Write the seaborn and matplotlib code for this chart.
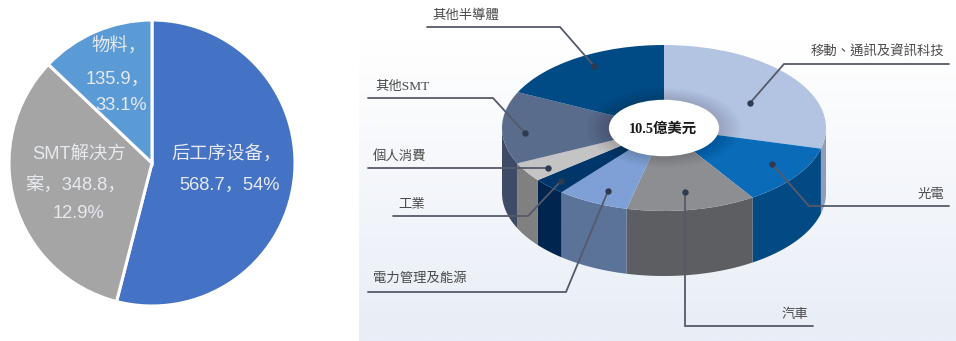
import numpy as np
import matplotlib
matplotlib.use("Agg")
import matplotlib.pyplot as plt
from matplotlib.colors import LinearSegmentedColormap
from matplotlib.patches import Circle
import seaborn as sns

# Left pie: spend by equipment type
pie_values = [568.7, 348.8, 135.9]
pie_colors = ["#4472c4", "#a5a5a5", "#5b9bd5"]
pie_labels = [["后工序设备，", "568.7，54%"], ["SMT解决方", "案，348.8，", "12.9%"], ["物料，", "135.9，", "33.1%"]]

# Right pie: 10.5 billion USD split by end market (shares in percent)
market_names = ["移動、通訊及資訊科技", "光電", "汽車", "電力管理及能源",
                "工業", "個人消費", "其他SMT", "其他半導體"]
market_shares = [29.0, 11.8, 12.9, 7.2, 3.3, 3.8, 14.1, 17.9]
top_colors = ["#b3c4e2", "#0a6bb8", "#8d8e91", "#7fa0d6",
              "#00376b", "#c4c4c4", "#5a6c8c", "#004a85"]
wall_colors = ["#8f9db8", "#024a84", "#5d5e62", "#5b7299",
               "#00264f", "#808080", "#3d4b66", "#003a6b"]
center_label = "10.5億美元"

W, H = 956, 341
SANS = ["Liberation Sans", "Noto Sans CJK SC"]
SERIF = ["Liberation Serif", "Noto Sans CJK TC"]
LINE = "#555a6a"

sns.set_theme(style="white")
fig = plt.figure(figsize=(W / 100, H / 100), dpi=100, facecolor="white")


def px_axes(left, top, right, bottom, zorder=1):
    """Axes placed by pixel bounds, measured from the top-left corner."""
    ax = fig.add_axes([left / W, 1 - bottom / H, (right - left) / W, (bottom - top) / H])
    ax.set_zorder(zorder)
    ax.patch.set_alpha(0)
    return ax


# Soft vertical wash behind the right-hand chart
bg = px_axes(359, 0, W, H, zorder=0)
wash = LinearSegmentedColormap.from_list("wash", [(0, "#ffffff"), (0.12, "#ffffff"), (1, "#e8edf6")])
bg.imshow(np.linspace(0, 1, 256).reshape(-1, 1), cmap=wash, aspect="auto")
bg.axis("off")

# Flat pie on the left
ax_pie = px_axes(9, 20, 295, 306)
ax_pie.pie(pie_values, colors=sns.color_palette(pie_colors), startangle=90, counterclock=False,
           radius=1, wedgeprops=dict(edgecolor="white", linewidth=2.2))
ax_pie.set(xlim=(-1, 1), ylim=(-1, 1))
ax_pie.set_aspect("auto")

# Extruded ring: a unit circle squashed into an ellipse by the axes limits
DEPTH = 0.783
HOLE = 0.34
ax_ring = px_axes(502, 45, 826, 276)


def arc(start_deg, end_deg, drop=0.0):
    theta = np.radians(np.linspace(start_deg, end_deg, 60))
    return np.sin(theta), np.cos(theta) - drop


edges = np.concatenate([[0], np.cumsum(market_shares)]) / sum(market_shares) * 360
for a, b, color in zip(edges[:-1], edges[1:], wall_colors):
    lo, hi = max(a, 90), min(b, 270)
    if lo < hi:
        x_top, y_top = arc(lo, hi)
        x_low, y_low = arc(lo, hi, DEPTH)
        ax_ring.fill(np.r_[x_top, x_low[::-1]], np.r_[y_top, y_low[::-1]], color=color, lw=0)

ax_ring.pie(market_shares, colors=sns.color_palette(top_colors), startangle=90,
            counterclock=False, radius=1, wedgeprops=dict(linewidth=0))

# Shading on the ring around the opening
for r in np.linspace(HOLE + 0.14, HOLE, 12):
    ax_ring.add_patch(Circle((0, 0), r, color="black", alpha=0.012, lw=0))
ax_ring.add_patch(Circle((0, 0), HOLE, color="white", lw=0))
ax_ring.set(xlim=(-1, 1), ylim=(-1 - DEPTH, 1))
ax_ring.set_aspect("auto")

# Overlay in pixel units for labels and leader lines
ov = px_axes(0, 0, W, H, zorder=3)
ov.set(xlim=(0, W), ylim=(H, 0))
ov.axis("off")

pie_label_pos = [[(227, 154), (230, 185)],
                 [(79, 154), (76, 185), (79, 213)],
                 [(119, 47), (118, 79), (121, 106)]]
for lines, spots in zip(pie_labels, pie_label_pos):
    for text, (x, y) in zip(lines, spots):
        ov.text(x, y, text, ha="center", va="center", fontsize=13.2, color="#e6e9ee", family=SANS)

leaders = {
    "移動、通訊及資訊科技": [(949, 64), (784, 64), (750, 103)],
    "光電": [(949, 206), (809, 206), (772, 164)],
    "汽車": [(813, 326), (685, 326), (685, 192)],
    "電力管理及能源": [(368, 292), (566, 292), (608, 191)],
    "工業": [(393, 216), (528, 216), (561, 181)],
    "個人消費": [(368, 168), (548, 168)],
    "其他SMT": [(368, 98), (493, 98), (525, 133)],
    "其他半導體": [(427, 27), (560, 27), (594, 66)],
}
for name, path in leaders.items():
    xs, ys = zip(*path)
    ov.plot(xs, ys, color=LINE, lw=1.3, solid_joinstyle="miter")
    ov.plot(xs[-1], ys[-1], "o", ms=4.6, color="#2f3a50", mew=0)

label_pos = {
    "移動、通訊及資訊科技": (944, 52, "right"),
    "光電": (944, 195, "right"),
    "汽車": (808, 315, "right"),
    "電力管理及能源": (373, 279, "left"),
    "工業": (398, 205, "left"),
    "個人消費": (373, 156, "left"),
    "其他SMT": (375, 87, "left"),
    "其他半導體": (432, 16, "left"),
}
for name in market_names:
    x, y, ha = label_pos[name]
    ov.text(x, y, name, ha=ha, va="center", fontsize=9.6, color="#4a4a4a", family=SERIF)

ov.text(663, 129, center_label, ha="center", va="center", fontsize=10.4, color="#1a1a1a",
        fontweight="bold", family=SERIF)

fig.savefig("out.png", dpi=100)
